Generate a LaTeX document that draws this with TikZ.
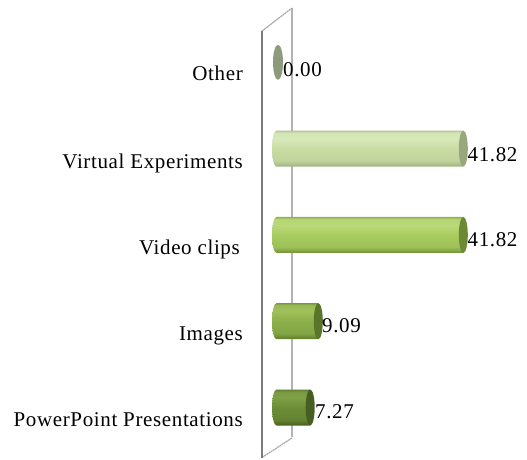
\documentclass[tikz,border=0pt]{standalone}
\usepackage{fontspec}
\setmainfont[LetterSpace=3]{Liberation Serif}
\definecolor{wallfront}{HTML}{7A7A7A}
\definecolor{wallback}{HTML}{B4B4B4}
\definecolor{walledge}{HTML}{A6A6A6}
\definecolor{oth}{HTML}{8E9A7C}
% \barpalette{name}{edge}{light}{body}{dark}{cap}
\newcommand\barpalette[6]{%
  \definecolor{#1C}{HTML}{#6}%
  \definecolor{#1ed}{HTML}{#2}\definecolor{#1lt}{HTML}{#3}%
  \definecolor{#1bd}{HTML}{#4}\definecolor{#1dk}{HTML}{#5}%
  \pgfdeclareverticalshading{#1S}{100bp}{%
    color(0bp)=(#1dk); color(25bp)=(#1dk); color(33bp)=(#1bd!80!#1dk);
    color(50bp)=(#1bd); color(64bp)=(#1lt); color(72bp)=(#1lt!70!#1bd);
    color(75bp)=(#1ed); color(100bp)=(#1ed)}%
}
\barpalette{ve}{B4C49A}{D8E9BA}{C8DCA2}{9FB07F}{98A87C}
\barpalette{vc}{8EAF52}{BAD97A}{A8CC60}{748F36}{6C8A36}
\barpalette{im}{7A9A42}{A0C05A}{8CAF4A}{5E7A2A}{587529}
\barpalette{pp}{5E7C30}{7FA046}{6C8D36}{475F20}{465E22}
% \cylbar{left centre x}{right centre x}{centre y}{palette}
\newcommand\cylbar[4]{%
  \path[shading=#4S]
    (#1,#3-18) -- (#2,#3-18) -- (#2,#3+18) -- (#1,#3+18)
    arc[start angle=90, end angle=270, x radius=4.5, y radius=18] -- cycle;
  \fill[#4C] (#2,#3) ellipse[x radius=4.5, y radius=18];
}
\tikzset{
  cat/.style={anchor=base east, inner sep=0pt, font=\fontsize{21}{24}\selectfont},
  val/.style={anchor=base west, inner sep=0pt, font=\fontsize{21}{24}\selectfont}
}
\begin{document}
\begin{tikzpicture}[x=1pt,y=1pt]
\useasboundingbox (0,0) rectangle (527,459);
% side wall of the chart
\draw[wallback, line width=2pt] (292,22) -- (292,451);
\draw[walledge, line width=1.2pt, dash pattern=on 2pt off 0.6pt] (262,428) -- (292,451);
\draw[walledge, line width=1.2pt, dash pattern=on 2pt off 0.6pt] (262,1.5) -- (292,21);
\draw[wallfront, line width=1.4pt] (262,1) -- (262,428);
% bars: x = 278 + 4.43*value
\fill[oth] (278,396.7) ellipse[x radius=5, y radius=17.5];
\cylbar{276.5}{463.3}{310.4}{ve}
\cylbar{276.5}{463.3}{224.1}{vc}
\cylbar{276.5}{318.3}{137.8}{im}
\cylbar{276.5}{310.2}{51.5}{pp}
% category labels
\node[cat] (lo)  at (243,378) {Other};
\node[cat] (lve) at (243,291) {Virtual Experiments};
\node[cat] (lvc) at (240,205) {Video clips};
\node[cat] (lim) at (243,118.5) {Images};
\node[cat] (lpp) at (243,33) {PowerPoint Presentations};
% value labels
\node[val] (vo)  at (283,383) {0.00};
\node[val] (vve) at (467.5,298) {41.82};
\node[val] (vvc) at (467.5,213) {41.82};
\node[val] (vim) at (322,127) {9.09};
\node[val] (vpp) at (315,41) {7.27};
\end{tikzpicture}
\end{document}
